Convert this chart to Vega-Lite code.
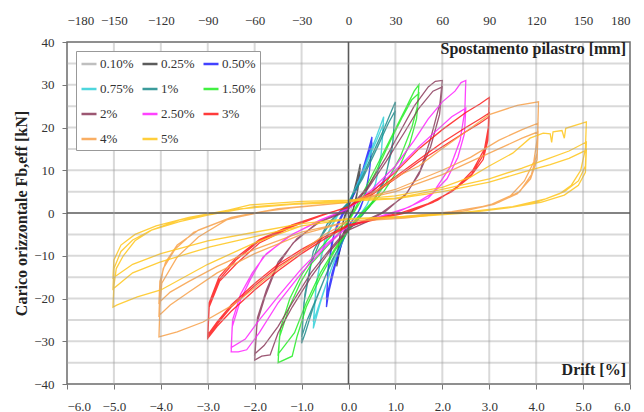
{
"$schema": "https://vega.github.io/schema/vega-lite/v6.json",
"width": 563, "height": 342,
"autosize": "none",
"padding": {"left": 67, "top": 42, "right": 14, "bottom": 28},
"background": "white",
"config": {
  "font": "Liberation Serif",
  "view": {"stroke": "#6b6b6b", "strokeWidth": 1.5},
  "axis": {"labelFont": "Liberation Serif", "labelFontSize": 13, "labelColor": "#333333", "grid": false, "tickColor": "#777777", "domain": false, "tickSize": 5}
},
"datasets": {
"gx": [{"x":-5},{"x":-4},{"x":-3},{"x":-2},{"x":-1},{"x":1},{"x":2},{"x":3},{"x":4},{"x":5}],
"gy": [{"y":-35},{"y":-30},{"y":-25},{"y":-20},{"y":-15},{"y":-10},{"y":-5},{"y":5},{"y":10},{"y":15},{"y":20},{"y":25},{"y":30},{"y":35}],
"d": [
{"s":"0.10%","x":0,"y":1},{"s":"0.10%","x":0.05,"y":3},{"s":"0.10%","x":0.1,"y":5},{"s":"0.10%","x":0.08,"y":2.5},{"s":"0.10%","x":0.04,"y":0},{"s":"0.10%","x":0,"y":-1.5},{"s":"0.10%","x":-0.05,"y":-3.5},{"s":"0.10%","x":-0.1,"y":-6},{"s":"0.10%","x":-0.08,"y":-3},{"s":"0.10%","x":-0.04,"y":-0.5},{"s":"0.10%","x":0,"y":1},
{"s":"0.25%","x":0,"y":1.5},{"s":"0.25%","x":0.1,"y":4.5},{"s":"0.25%","x":0.18,"y":8},{"s":"0.25%","x":0.25,"y":11.5},{"s":"0.25%","x":0.22,"y":7},{"s":"0.25%","x":0.16,"y":3},{"s":"0.25%","x":0.08,"y":0},{"s":"0.25%","x":0,"y":-2},{"s":"0.25%","x":-0.1,"y":-5},{"s":"0.25%","x":-0.18,"y":-8.5},{"s":"0.25%","x":-0.25,"y":-12.5},{"s":"0.25%","x":-0.22,"y":-8},{"s":"0.25%","x":-0.16,"y":-4},{"s":"0.25%","x":-0.08,"y":-1},{"s":"0.25%","x":0,"y":1.5},{"s":"0.25%","x":0.1,"y":4},{"s":"0.25%","x":0.2,"y":8},{"s":"0.25%","x":0.25,"y":10.5},{"s":"0.25%","x":0.2,"y":5.5},{"s":"0.25%","x":0.1,"y":1},{"s":"0.25%","x":0,"y":-1.5},{"s":"0.25%","x":-0.12,"y":-5},{"s":"0.25%","x":-0.25,"y":-11.5},{"s":"0.25%","x":-0.18,"y":-5},{"s":"0.25%","x":-0.08,"y":-0.5},{"s":"0.25%","x":0,"y":1},
{"s":"0.50%","x":0,"y":2},{"s":"0.50%","x":0.15,"y":5.5},{"s":"0.50%","x":0.3,"y":10},{"s":"0.50%","x":0.42,"y":14.5},{"s":"0.50%","x":0.5,"y":17.8},{"s":"0.50%","x":0.46,"y":11},{"s":"0.50%","x":0.38,"y":5},{"s":"0.50%","x":0.25,"y":1},{"s":"0.50%","x":0.1,"y":-1.5},{"s":"0.50%","x":0,"y":-3},{"s":"0.50%","x":-0.15,"y":-7.5},{"s":"0.50%","x":-0.3,"y":-13},{"s":"0.50%","x":-0.42,"y":-18.5},{"s":"0.50%","x":-0.47,"y":-22},{"s":"0.50%","x":-0.44,"y":-14},{"s":"0.50%","x":-0.36,"y":-7},{"s":"0.50%","x":-0.24,"y":-2.5},{"s":"0.50%","x":-0.1,"y":0.5},{"s":"0.50%","x":0,"y":2},{"s":"0.50%","x":0.15,"y":5},{"s":"0.50%","x":0.3,"y":9.5},{"s":"0.50%","x":0.42,"y":13.5},{"s":"0.50%","x":0.5,"y":16.5},{"s":"0.50%","x":0.45,"y":10},{"s":"0.50%","x":0.35,"y":4},{"s":"0.50%","x":0.2,"y":0},{"s":"0.50%","x":0,"y":-3},{"s":"0.50%","x":-0.2,"y":-8.5},{"s":"0.50%","x":-0.35,"y":-14},{"s":"0.50%","x":-0.47,"y":-20},{"s":"0.50%","x":-0.43,"y":-12.5},{"s":"0.50%","x":-0.3,"y":-4.5},{"s":"0.50%","x":-0.1,"y":0},{"s":"0.50%","x":0,"y":1.5},
{"s":"0.75%","x":0,"y":2.5},{"s":"0.75%","x":0.2,"y":7},{"s":"0.75%","x":0.4,"y":12.5},{"s":"0.75%","x":0.6,"y":18},{"s":"0.75%","x":0.75,"y":22.5},{"s":"0.75%","x":0.7,"y":14},{"s":"0.75%","x":0.58,"y":7},{"s":"0.75%","x":0.4,"y":2},{"s":"0.75%","x":0.2,"y":-1},{"s":"0.75%","x":0,"y":-3.5},{"s":"0.75%","x":-0.2,"y":-8.5},{"s":"0.75%","x":-0.4,"y":-14},{"s":"0.75%","x":-0.6,"y":-21},{"s":"0.75%","x":-0.75,"y":-27},{"s":"0.75%","x":-0.7,"y":-18},{"s":"0.75%","x":-0.58,"y":-10},{"s":"0.75%","x":-0.4,"y":-4},{"s":"0.75%","x":-0.2,"y":0},{"s":"0.75%","x":0,"y":2.5},{"s":"0.75%","x":0.2,"y":6.5},{"s":"0.75%","x":0.4,"y":12},{"s":"0.75%","x":0.6,"y":17},{"s":"0.75%","x":0.75,"y":21},{"s":"0.75%","x":0.69,"y":13},{"s":"0.75%","x":0.55,"y":5.5},{"s":"0.75%","x":0.35,"y":1},{"s":"0.75%","x":0,"y":-3.5},{"s":"0.75%","x":-0.3,"y":-11},{"s":"0.75%","x":-0.55,"y":-19},{"s":"0.75%","x":-0.75,"y":-25.5},{"s":"0.75%","x":-0.68,"y":-16},{"s":"0.75%","x":-0.5,"y":-6},{"s":"0.75%","x":-0.25,"y":-0.5},{"s":"0.75%","x":0,"y":2},
{"s":"1%","x":0,"y":2.5},{"s":"1%","x":0.25,"y":7.5},{"s":"1%","x":0.5,"y":13.5},{"s":"1%","x":0.75,"y":19.5},{"s":"1%","x":0.92,"y":24},{"s":"1%","x":1.0,"y":26},{"s":"1%","x":0.95,"y":17},{"s":"1%","x":0.8,"y":9},{"s":"1%","x":0.55,"y":3},{"s":"1%","x":0.3,"y":-0.5},{"s":"1%","x":0,"y":-4},{"s":"1%","x":-0.25,"y":-9},{"s":"1%","x":-0.5,"y":-15},{"s":"1%","x":-0.75,"y":-22},{"s":"1%","x":-0.92,"y":-28},{"s":"1%","x":-1.0,"y":-30.5},{"s":"1%","x":-0.95,"y":-21},{"s":"1%","x":-0.8,"y":-12},{"s":"1%","x":-0.55,"y":-5},{"s":"1%","x":-0.3,"y":-1},{"s":"1%","x":0,"y":2.5},{"s":"1%","x":0.3,"y":8},{"s":"1%","x":0.6,"y":15},{"s":"1%","x":0.85,"y":21},{"s":"1%","x":1.0,"y":24},{"s":"1%","x":0.93,"y":15},{"s":"1%","x":0.75,"y":7},{"s":"1%","x":0.45,"y":1.5},{"s":"1%","x":0,"y":-4},{"s":"1%","x":-0.35,"y":-11},{"s":"1%","x":-0.65,"y":-19},{"s":"1%","x":-0.88,"y":-25},{"s":"1%","x":-1.0,"y":-29},{"s":"1%","x":-0.93,"y":-19},{"s":"1%","x":-0.75,"y":-9},{"s":"1%","x":-0.45,"y":-2.5},{"s":"1%","x":0,"y":2},
{"s":"1.50%","x":0,"y":-2},{"s":"1.50%","x":0.3,"y":4.5},{"s":"1.50%","x":0.6,"y":11},{"s":"1.50%","x":0.9,"y":17.5},{"s":"1.50%","x":1.2,"y":24},{"s":"1.50%","x":1.4,"y":28.5},{"s":"1.50%","x":1.5,"y":30},{"s":"1.50%","x":1.47,"y":25},{"s":"1.50%","x":1.35,"y":20},{"s":"1.50%","x":1.1,"y":13},{"s":"1.50%","x":0.8,"y":7},{"s":"1.50%","x":0.5,"y":2.5},{"s":"1.50%","x":0.2,"y":-1},{"s":"1.50%","x":0,"y":-4},{"s":"1.50%","x":-0.3,"y":-9},{"s":"1.50%","x":-0.6,"y":-15},{"s":"1.50%","x":-0.9,"y":-22},{"s":"1.50%","x":-1.1,"y":-29},{"s":"1.50%","x":-1.2,"y":-33.5},{"s":"1.50%","x":-1.5,"y":-35},{"s":"1.50%","x":-1.47,"y":-29},{"s":"1.50%","x":-1.26,"y":-22},{"s":"1.50%","x":-1.03,"y":-16.4},{"s":"1.50%","x":-0.78,"y":-11.7},{"s":"1.50%","x":-0.33,"y":-6.3},{"s":"1.50%","x":0,"y":-2},{"s":"1.50%","x":0.3,"y":3.5},{"s":"1.50%","x":0.6,"y":10},{"s":"1.50%","x":0.9,"y":17},{"s":"1.50%","x":1.15,"y":22.5},{"s":"1.50%","x":1.35,"y":26.5},{"s":"1.50%","x":1.5,"y":28},{"s":"1.50%","x":1.45,"y":22},{"s":"1.50%","x":1.3,"y":16},{"s":"1.50%","x":1.05,"y":10},{"s":"1.50%","x":0.75,"y":5},{"s":"1.50%","x":0.4,"y":1},{"s":"1.50%","x":0,"y":-3.5},{"s":"1.50%","x":-0.3,"y":-8.5},{"s":"1.50%","x":-0.6,"y":-14},{"s":"1.50%","x":-0.9,"y":-21},{"s":"1.50%","x":-1.15,"y":-28},{"s":"1.50%","x":-1.5,"y":-33},{"s":"1.50%","x":-1.45,"y":-27},{"s":"1.50%","x":-1.25,"y":-20},{"s":"1.50%","x":-1.0,"y":-14.5},{"s":"1.50%","x":-0.7,"y":-9.5},{"s":"1.50%","x":-0.3,"y":-4.5},{"s":"1.50%","x":0,"y":-1.5},
{"s":"2%","x":0,"y":1},{"s":"2%","x":0.4,"y":6},{"s":"2%","x":0.8,"y":13},{"s":"2%","x":1.1,"y":19},{"s":"2%","x":1.4,"y":25},{"s":"2%","x":1.7,"y":29.5},{"s":"2%","x":1.85,"y":30.8},{"s":"2%","x":2.0,"y":31},{"s":"2%","x":1.95,"y":25.7},{"s":"2%","x":1.74,"y":17},{"s":"2%","x":1.53,"y":10},{"s":"2%","x":1.25,"y":4.7},{"s":"2%","x":0.8,"y":0.5},{"s":"2%","x":0.4,"y":-2},{"s":"2%","x":0,"y":-4},{"s":"2%","x":-0.4,"y":-9},{"s":"2%","x":-0.8,"y":-15},{"s":"2%","x":-1.2,"y":-22},{"s":"2%","x":-1.5,"y":-28},{"s":"2%","x":-1.67,"y":-33.2},{"s":"2%","x":-1.85,"y":-33.5},{"s":"2%","x":-2.0,"y":-34.4},{"s":"2%","x":-1.95,"y":-25.7},{"s":"2%","x":-1.78,"y":-19.6},{"s":"2%","x":-1.53,"y":-12.6},{"s":"2%","x":-1.18,"y":-7},{"s":"2%","x":-0.67,"y":-2.3},{"s":"2%","x":0,"y":1},{"s":"2%","x":0.4,"y":5.5},{"s":"2%","x":0.8,"y":12},{"s":"2%","x":1.2,"y":19},{"s":"2%","x":1.5,"y":24.5},{"s":"2%","x":1.8,"y":28.5},{"s":"2%","x":2.0,"y":29.5},{"s":"2%","x":1.94,"y":23},{"s":"2%","x":1.75,"y":15.5},{"s":"2%","x":1.5,"y":9},{"s":"2%","x":1.2,"y":4},{"s":"2%","x":0.7,"y":0},{"s":"2%","x":0,"y":-3.5},{"s":"2%","x":-0.4,"y":-8.5},{"s":"2%","x":-0.8,"y":-14},{"s":"2%","x":-1.2,"y":-21},{"s":"2%","x":-1.5,"y":-26.5},{"s":"2%","x":-1.8,"y":-31},{"s":"2%","x":-2.0,"y":-33},{"s":"2%","x":-1.94,"y":-24.5},{"s":"2%","x":-1.75,"y":-18},{"s":"2%","x":-1.5,"y":-11.5},{"s":"2%","x":-1.1,"y":-6},{"s":"2%","x":-0.6,"y":-2},{"s":"2%","x":0,"y":0.5},
{"s":"2.50%","x":0,"y":1},{"s":"2.50%","x":0.5,"y":5.5},{"s":"2.50%","x":1.0,"y":11},{"s":"2.50%","x":1.4,"y":17},{"s":"2.50%","x":1.7,"y":22},{"s":"2.50%","x":2.0,"y":26},{"s":"2.50%","x":2.27,"y":28.5},{"s":"2.50%","x":2.4,"y":30.5},{"s":"2.50%","x":2.5,"y":31},{"s":"2.50%","x":2.48,"y":24},{"s":"2.50%","x":2.38,"y":17},{"s":"2.50%","x":2.17,"y":10.8},{"s":"2.50%","x":1.8,"y":4.7},{"s":"2.50%","x":1.3,"y":1.4},{"s":"2.50%","x":0.6,"y":-1},{"s":"2.50%","x":0,"y":-3},{"s":"2.50%","x":-0.5,"y":-8},{"s":"2.50%","x":-1.0,"y":-14},{"s":"2.50%","x":-1.5,"y":-21},{"s":"2.50%","x":-1.9,"y":-28},{"s":"2.50%","x":-2.17,"y":-32},{"s":"2.50%","x":-2.35,"y":-32.5},{"s":"2.50%","x":-2.5,"y":-32.5},{"s":"2.50%","x":-2.48,"y":-26.7},{"s":"2.50%","x":-2.3,"y":-20.3},{"s":"2.50%","x":-2.1,"y":-15.7},{"s":"2.50%","x":-1.82,"y":-10.3},{"s":"2.50%","x":-1.3,"y":-5.6},{"s":"2.50%","x":-0.6,"y":-1.6},{"s":"2.50%","x":0,"y":1},{"s":"2.50%","x":0.5,"y":5},{"s":"2.50%","x":1.0,"y":10},{"s":"2.50%","x":1.5,"y":15.5},{"s":"2.50%","x":1.9,"y":19.5},{"s":"2.50%","x":2.2,"y":22.5},{"s":"2.50%","x":2.5,"y":24.5},{"s":"2.50%","x":2.47,"y":18.5},{"s":"2.50%","x":2.33,"y":13},{"s":"2.50%","x":2.1,"y":8},{"s":"2.50%","x":1.7,"y":3.5},{"s":"2.50%","x":1.1,"y":0.5},{"s":"2.50%","x":0.5,"y":-1.5},{"s":"2.50%","x":0,"y":-3},{"s":"2.50%","x":-0.5,"y":-7.5},{"s":"2.50%","x":-1.0,"y":-13},{"s":"2.50%","x":-1.5,"y":-19.5},{"s":"2.50%","x":-1.9,"y":-25},{"s":"2.50%","x":-2.2,"y":-29.5},{"s":"2.50%","x":-2.5,"y":-31.5},{"s":"2.50%","x":-2.47,"y":-25},{"s":"2.50%","x":-2.3,"y":-19},{"s":"2.50%","x":-2.05,"y":-14},{"s":"2.50%","x":-1.75,"y":-9.5},{"s":"2.50%","x":-1.2,"y":-5},{"s":"2.50%","x":-0.5,"y":-1.2},{"s":"2.50%","x":0,"y":1},
{"s":"3%","x":0,"y":1.5},{"s":"3%","x":0.5,"y":5},{"s":"3%","x":1.0,"y":9.5},{"s":"3%","x":1.5,"y":15},{"s":"3%","x":2.0,"y":19.5},{"s":"3%","x":2.5,"y":23.5},{"s":"3%","x":2.8,"y":25.5},{"s":"3%","x":3.0,"y":27},{"s":"3%","x":2.98,"y":20},{"s":"3%","x":2.9,"y":15},{"s":"3%","x":2.65,"y":10},{"s":"3%","x":2.3,"y":6},{"s":"3%","x":1.9,"y":3},{"s":"3%","x":1.3,"y":0.2},{"s":"3%","x":0.6,"y":-1.5},{"s":"3%","x":0,"y":-3},{"s":"3%","x":-0.5,"y":-6},{"s":"3%","x":-1.0,"y":-9.5},{"s":"3%","x":-1.5,"y":-13.5},{"s":"3%","x":-2.0,"y":-18},{"s":"3%","x":-2.5,"y":-23},{"s":"3%","x":-2.8,"y":-26.5},{"s":"3%","x":-3.0,"y":-29.3},{"s":"3%","x":-2.97,"y":-22},{"s":"3%","x":-2.75,"y":-16},{"s":"3%","x":-2.4,"y":-12},{"s":"3%","x":-1.9,"y":-7},{"s":"3%","x":-1.2,"y":-3.2},{"s":"3%","x":-0.55,"y":-0.5},{"s":"3%","x":0,"y":1.5},{"s":"3%","x":0.5,"y":4.5},{"s":"3%","x":1.0,"y":8.5},{"s":"3%","x":1.5,"y":12.5},{"s":"3%","x":2.0,"y":16.5},{"s":"3%","x":2.5,"y":20},{"s":"3%","x":2.8,"y":22},{"s":"3%","x":3.0,"y":23.4},{"s":"3%","x":2.97,"y":18},{"s":"3%","x":2.87,"y":13.5},{"s":"3%","x":2.62,"y":9},{"s":"3%","x":2.25,"y":5.5},{"s":"3%","x":1.8,"y":2.5},{"s":"3%","x":1.2,"y":0},{"s":"3%","x":0.5,"y":-1.5},{"s":"3%","x":0,"y":-3},{"s":"3%","x":-0.5,"y":-5.5},{"s":"3%","x":-1.0,"y":-9},{"s":"3%","x":-1.5,"y":-12.5},{"s":"3%","x":-2.0,"y":-17},{"s":"3%","x":-2.5,"y":-22},{"s":"3%","x":-2.8,"y":-26},{"s":"3%","x":-3.0,"y":-29},{"s":"3%","x":-2.97,"y":-21.5},{"s":"3%","x":-2.75,"y":-15.5},{"s":"3%","x":-2.4,"y":-11},{"s":"3%","x":-1.9,"y":-6.5},{"s":"3%","x":-1.2,"y":-3},{"s":"3%","x":-0.5,"y":-0.3},{"s":"3%","x":0,"y":1.5},{"s":"3%","x":0.5,"y":4.3},{"s":"3%","x":1.0,"y":8},{"s":"3%","x":1.5,"y":12},{"s":"3%","x":2.0,"y":15.5},{"s":"3%","x":2.5,"y":19},{"s":"3%","x":2.8,"y":21},{"s":"3%","x":3.0,"y":22.5},{"s":"3%","x":2.97,"y":17},{"s":"3%","x":2.87,"y":12.5},{"s":"3%","x":2.6,"y":8.5},{"s":"3%","x":2.2,"y":5},{"s":"3%","x":1.7,"y":2.2},{"s":"3%","x":1.1,"y":0},{"s":"3%","x":0.5,"y":-1.5},{"s":"3%","x":0,"y":-2.8},{"s":"3%","x":-0.5,"y":-5.5},{"s":"3%","x":-1.0,"y":-8.5},{"s":"3%","x":-1.5,"y":-12},{"s":"3%","x":-2.0,"y":-16.5},{"s":"3%","x":-2.5,"y":-21.5},{"s":"3%","x":-2.8,"y":-25.5},{"s":"3%","x":-3.0,"y":-28.5},{"s":"3%","x":-2.97,"y":-21},{"s":"3%","x":-2.76,"y":-15},{"s":"3%","x":-2.4,"y":-10.5},{"s":"3%","x":-1.9,"y":-6.2},{"s":"3%","x":-1.2,"y":-2.8},{"s":"3%","x":-0.5,"y":-0.2},{"s":"3%","x":0,"y":1.3},
{"s":"4%","x":0,"y":2.5},{"s":"4%","x":0.5,"y":4.5},{"s":"4%","x":1.1,"y":8.9},{"s":"4%","x":1.5,"y":11},{"s":"4%","x":1.95,"y":14.7},{"s":"4%","x":2.5,"y":19},{"s":"4%","x":3.0,"y":23},{"s":"4%","x":3.6,"y":25.2},{"s":"4%","x":4.05,"y":26},{"s":"4%","x":4.03,"y":18},{"s":"4%","x":3.95,"y":12},{"s":"4%","x":3.75,"y":7.5},{"s":"4%","x":3.45,"y":4},{"s":"4%","x":3.0,"y":1.8},{"s":"4%","x":2.2,"y":0.3},{"s":"4%","x":1.0,"y":-1},{"s":"4%","x":0,"y":-2},{"s":"4%","x":-0.5,"y":-5},{"s":"4%","x":-1.0,"y":-9},{"s":"4%","x":-1.5,"y":-13},{"s":"4%","x":-2.0,"y":-17.5},{"s":"4%","x":-2.46,"y":-21.5},{"s":"4%","x":-3.1,"y":-25.5},{"s":"4%","x":-3.65,"y":-27.8},{"s":"4%","x":-4.04,"y":-29},{"s":"4%","x":-4.02,"y":-22},{"s":"4%","x":-3.98,"y":-16.4},{"s":"4%","x":-3.65,"y":-10.3},{"s":"4%","x":-3.2,"y":-5.6},{"s":"4%","x":-2.6,"y":-1.6},{"s":"4%","x":-1.9,"y":0.2},{"s":"4%","x":-1.0,"y":1.5},{"s":"4%","x":0,"y":2.5},{"s":"4%","x":1.0,"y":5.5},{"s":"4%","x":2.0,"y":10},{"s":"4%","x":2.6,"y":13},{"s":"4%","x":3.2,"y":17},{"s":"4%","x":3.7,"y":19.5},{"s":"4%","x":4.04,"y":21},{"s":"4%","x":4.02,"y":14},{"s":"4%","x":3.9,"y":9},{"s":"4%","x":3.65,"y":5},{"s":"4%","x":3.2,"y":2.5},{"s":"4%","x":2.5,"y":0.5},{"s":"4%","x":1.2,"y":-1},{"s":"4%","x":0,"y":-2},{"s":"4%","x":-1.0,"y":-5},{"s":"4%","x":-2.0,"y":-9.5},{"s":"4%","x":-2.8,"y":-14},{"s":"4%","x":-3.4,"y":-18.5},{"s":"4%","x":-3.8,"y":-21.5},{"s":"4%","x":-4.04,"y":-24},{"s":"4%","x":-4.02,"y":-18},{"s":"4%","x":-3.95,"y":-13},{"s":"4%","x":-3.7,"y":-8.5},{"s":"4%","x":-3.3,"y":-4.5},{"s":"4%","x":-2.6,"y":-1.5},{"s":"4%","x":-1.6,"y":0.8},{"s":"4%","x":0,"y":2.5},{"s":"4%","x":1.0,"y":5},{"s":"4%","x":2.0,"y":9},{"s":"4%","x":2.6,"y":12},{"s":"4%","x":3.2,"y":15},{"s":"4%","x":3.7,"y":17.5},{"s":"4%","x":4.04,"y":19},{"s":"4%","x":4.02,"y":12.5},{"s":"4%","x":3.88,"y":8},{"s":"4%","x":3.6,"y":4.5},{"s":"4%","x":3.1,"y":2},{"s":"4%","x":2.4,"y":0.3},{"s":"4%","x":1.2,"y":-1.2},{"s":"4%","x":0,"y":-2},{"s":"4%","x":-1.0,"y":-4.5},{"s":"4%","x":-2.0,"y":-8.5},{"s":"4%","x":-2.8,"y":-12.5},{"s":"4%","x":-3.4,"y":-16},{"s":"4%","x":-3.8,"y":-18.5},{"s":"4%","x":-4.04,"y":-21},{"s":"4%","x":-4.02,"y":-16},{"s":"4%","x":-3.9,"y":-11.5},{"s":"4%","x":-3.65,"y":-7.5},{"s":"4%","x":-3.2,"y":-4},{"s":"4%","x":-2.5,"y":-1},{"s":"4%","x":-1.5,"y":1},{"s":"4%","x":0,"y":2.5},
{"s":"5%","x":0,"y":3},{"s":"5%","x":1.0,"y":4},{"s":"5%","x":2.0,"y":6},{"s":"5%","x":2.6,"y":8.4},{"s":"5%","x":3.0,"y":11},{"s":"5%","x":3.5,"y":14},{"s":"5%","x":3.87,"y":17.5},{"s":"5%","x":4.15,"y":18.7},{"s":"5%","x":4.3,"y":18.5},{"s":"5%","x":4.33,"y":16.5},{"s":"5%","x":4.36,"y":19},{"s":"5%","x":4.55,"y":19.3},{"s":"5%","x":4.6,"y":17.5},{"s":"5%","x":4.63,"y":19.8},{"s":"5%","x":5.07,"y":21.3},{"s":"5%","x":5.05,"y":15},{"s":"5%","x":4.95,"y":10},{"s":"5%","x":4.75,"y":6.5},{"s":"5%","x":4.5,"y":4.5},{"s":"5%","x":4.0,"y":2.5},{"s":"5%","x":3.4,"y":1.2},{"s":"5%","x":2.5,"y":0},{"s":"5%","x":1.5,"y":-0.8},{"s":"5%","x":0,"y":-1.5},{"s":"5%","x":-1.0,"y":-3},{"s":"5%","x":-2.0,"y":-7},{"s":"5%","x":-3.0,"y":-12},{"s":"5%","x":-4.0,"y":-18},{"s":"5%","x":-4.5,"y":-19.6},{"s":"5%","x":-4.93,"y":-21.5},{"s":"5%","x":-5.02,"y":-22},{"s":"5%","x":-5.0,"y":-17},{"s":"5%","x":-4.95,"y":-13},{"s":"5%","x":-4.8,"y":-10},{"s":"5%","x":-4.55,"y":-6.5},{"s":"5%","x":-4.2,"y":-4},{"s":"5%","x":-3.6,"y":-1.6},{"s":"5%","x":-3.0,"y":-0.5},{"s":"5%","x":-2.1,"y":1.9},{"s":"5%","x":-1.0,"y":2.7},{"s":"5%","x":0,"y":3},{"s":"5%","x":1.0,"y":3.5},{"s":"5%","x":2.0,"y":5.5},{"s":"5%","x":3.0,"y":8},{"s":"5%","x":3.7,"y":10.5},{"s":"5%","x":4.2,"y":12.5},{"s":"5%","x":4.7,"y":14.5},{"s":"5%","x":5.07,"y":16.6},{"s":"5%","x":5.05,"y":11},{"s":"5%","x":4.9,"y":7.5},{"s":"5%","x":4.6,"y":5},{"s":"5%","x":4.2,"y":3.3},{"s":"5%","x":3.5,"y":1.5},{"s":"5%","x":2.5,"y":0.2},{"s":"5%","x":1.2,"y":-0.8},{"s":"5%","x":0,"y":-1.5},{"s":"5%","x":-1.0,"y":-3},{"s":"5%","x":-2.0,"y":-5.5},{"s":"5%","x":-2.95,"y":-7.9},{"s":"5%","x":-4.02,"y":-11.5},{"s":"5%","x":-4.6,"y":-14},{"s":"5%","x":-5.02,"y":-17.8},{"s":"5%","x":-5.0,"y":-13},{"s":"5%","x":-4.85,"y":-9},{"s":"5%","x":-4.6,"y":-6.3},{"s":"5%","x":-4.2,"y":-4},{"s":"5%","x":-3.6,"y":-2},{"s":"5%","x":-3.0,"y":-0.5},{"s":"5%","x":-2.0,"y":1.5},{"s":"5%","x":-1.0,"y":2.3},{"s":"5%","x":0,"y":2.8},{"s":"5%","x":1.0,"y":3.3},{"s":"5%","x":2.0,"y":5},{"s":"5%","x":3.0,"y":7.2},{"s":"5%","x":3.7,"y":9.5},{"s":"5%","x":4.3,"y":11.3},{"s":"5%","x":4.7,"y":12.8},{"s":"5%","x":5.07,"y":14.7},{"s":"5%","x":5.05,"y":9.5},{"s":"5%","x":4.9,"y":6.5},{"s":"5%","x":4.6,"y":4.2},{"s":"5%","x":4.1,"y":2.5},{"s":"5%","x":3.4,"y":1.2},{"s":"5%","x":2.4,"y":0},{"s":"5%","x":1.2,"y":-0.8},{"s":"5%","x":0,"y":-1.3},{"s":"5%","x":-1.0,"y":-2.5},{"s":"5%","x":-2.0,"y":-4.5},{"s":"5%","x":-3.0,"y":-6.5},{"s":"5%","x":-4.0,"y":-9.5},{"s":"5%","x":-4.6,"y":-12},{"s":"5%","x":-5.02,"y":-15.2},{"s":"5%","x":-5.0,"y":-11},{"s":"5%","x":-4.85,"y":-7.5},{"s":"5%","x":-4.55,"y":-5},{"s":"5%","x":-4.1,"y":-3},{"s":"5%","x":-3.4,"y":-1},{"s":"5%","x":-2.5,"y":0.8},{"s":"5%","x":-1.2,"y":2},{"s":"5%","x":0,"y":2.5}
]},
"layer": [
  {
    "data": {"name": "d"},
    "mark": {"type": "line", "strokeWidth": 1.3, "opacity": 0.85},
    "encoding": {
      "x": {"field": "x", "type": "quantitative", "scale": {"domain": [-6, 6], "nice": false, "zero": false},
        "axis": {"values": [-6,-5,-4,-3,-2,-1,0,1,2,3,4,5,6], "format": ".1f", "title": null, "labelPadding": 11}},
      "y": {"field": "y", "type": "quantitative", "scale": {"domain": [-40, 40], "nice": false},
        "axis": {"values": [-40,-35,-30,-25,-20,-15,-10,-5,0,5,10,15,20,25,30,35,40], "labelPadding": 8,
          "title": "Carico orizzontale Fb,eff [kN]", "titleFont": "Liberation Serif", "titleFontSize": 16, "titleFontWeight": "bold", "titleColor": "#222222", "titlePadding": 4}},
      "color": {"field": "s", "type": "nominal",
        "scale": {"domain": ["0.10%","0.25%","0.50%","0.75%","1%","1.50%","2%","2.50%","3%","4%","5%"],
                  "range": ["#b4b4b4","#404040","#2222ff","#30d0d8","#1a8a8a","#22ee22","#8b3a5a","#ff22ff","#ff1a1a","#f8a048","#ffc61a"]},
        "legend": {"orient": "top-left", "offset": 9, "title": null, "columns": 3, "direction": "horizontal", "symbolType": "stroke", "symbolSize": 225, "symbolStrokeWidth": 2.5,
          "labelFont": "Liberation Serif", "labelFontSize": 13, "labelColor": "#333333", "labelOffset": 2,
          "strokeColor": "#999999", "fillColor": "white", "padding": 4, "columnPadding": 3, "rowPadding": 9}},
      "order": {"value": null}
    }
  },
  {
    "data": {"values": [{"x": 0}]},
    "mark": {"type": "rule", "color": "#5a5a5a", "strokeWidth": 1.6},
    "encoding": {
      "x": {"field": "x", "type": "quantitative",
        "axis": {"orient": "top", "values": [-6,-5,-4,-3,-2,-1,0,1,2,3,4,5,6], "labelExpr": "format(datum.value*30,'d')", "ticks": false, "labelPadding": 15, "title": null}}
    }
  },
  {
    "data": {"values": [{"y": 0}]},
    "mark": {"type": "rule", "color": "#5a5a5a", "strokeWidth": 1.6},
    "encoding": {
      "y": {"field": "y", "type": "quantitative"}
    }
  },
  {
    "data": {"name": "gx"},
    "mark": {"type": "rule", "color": "#a0a0a0", "strokeWidth": 2, "opacity": 0.4},
    "encoding": {
      "x": {"field": "x", "type": "quantitative", "axis": null}
    }
  },
  {
    "data": {"name": "gy"},
    "mark": {"type": "rule", "color": "#a0a0a0", "strokeWidth": 2, "opacity": 0.4},
    "encoding": {
      "y": {"field": "y", "type": "quantitative"}
    }
  },
  {
    "data": {"values": [{"x": 6, "y": -36.8, "t": "Drift [%]"}, {"x": 6, "y": 38.3, "t": "Spostamento pilastro [mm]"}]},
    "mark": {"type": "text", "align": "right", "baseline": "middle", "dx": -4, "font": "Liberation Serif", "fontSize": 16, "fontWeight": "bold", "color": "#222222"},
    "encoding": {
      "x": {"field": "x", "type": "quantitative", "axis": null},
      "y": {"field": "y", "type": "quantitative"},
      "text": {"field": "t"}
    }
  }
],
"resolve": {"axis": {"x": "independent"}}
}
